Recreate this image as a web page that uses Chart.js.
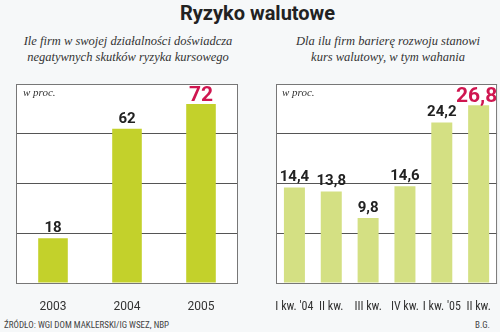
<!DOCTYPE html>
<html>
<head>
<meta charset="utf-8">
<script src="https://cdn.jsdelivr.net/npm/chart.js@4"></script>
<style>
  body { margin: 0; background: #f6f8f9; }
  #wrap { position: relative; width: 500px; height: 332px; overflow: hidden; font-family: Roboto, sans-serif; }
  .title { position: absolute; top: 1px; left: 0; width: 515px; text-align: center; font: bold 20px Roboto, sans-serif; color: #222; }
  .sub { position: absolute; top: 33px; text-align: center; font: italic 12.5px 'Liberation Serif', serif; color: #333; line-height: 16px; white-space: nowrap; }
  .unit { position: absolute; top: 86px; font: italic 11px 'Liberation Serif', serif; color: #333; }
  .foot { position: absolute; top: 320px; font: 9px 'Liberation Sans Narrow', 'Roboto Condensed', Roboto, sans-serif; color: #444; }
  canvas { position: absolute; }
</style>
</head>
<body>
<div id="wrap">
  <div class="title">Ryzyko walutowe</div>
  <div class="sub" style="left:18px;width:220px">Ile firm w swojej działalności doświadcza<br>negatywnych skutków ryzyka kursowego</div>
  <div class="sub" style="left:278px;width:220px">Dla ilu firm barierę rozwoju stanowi<br>kurs walutowy, w tym wahania</div>
  <div style="position:absolute;left:0;top:80px;width:250px;height:230px"><canvas id="left"></canvas></div>
  <div style="position:absolute;left:250px;top:80px;width:250px;height:230px"><canvas id="right"></canvas></div>
  <div class="unit" style="left:23px">w proc.</div>
  <div class="unit" style="left:282px">w proc.</div>
  <div class="foot" style="left:4px">ŹRÓDŁO: WGI DOM MAKLERSKI/IG WSEZ, NBP</div>
  <div class="foot" style="right:10px">B.G.</div>
</div>
<script>
// Left chart data
const yearLabels = ['2003', '2004', '2005'];
const yearValues = [18, 62, 72];
const yearTexts = ['18', '62', '72'];

// Right chart data
const quarterLabels = ["I kw. '04", 'II kw.', 'III kw.', 'IV kw.', "I kw. '05", 'II kw.'];
const quarterValues = [14.4, 13.8, 9.8, 14.6, 24.2, 26.8];
const quarterTexts = ['14,4', '13,8', '9,8', '14,6', '24,2', '26,8'];

// Frame round the plot area + white fill
const framePlugin = {
    id: 'frame',
    beforeDraw(chart) {
        const a = chart.chartArea;
        const ctx = chart.ctx;
        ctx.save();
        ctx.fillStyle = '#ffffff';
        ctx.fillRect(a.left, a.top, a.right - a.left, a.bottom - a.top);
        ctx.restore();
    },
    afterDraw(chart) {
        const a = chart.chartArea;
        const ctx = chart.ctx;
        ctx.save();
        ctx.strokeStyle = '#777';
        ctx.lineWidth = 1;
        ctx.strokeRect(a.left + 0.5, a.top + 0.5, a.right - a.left - 1, a.bottom - a.top);
        ctx.restore();
    }
};

// Value labels above the bars, last one highlighted
const valuePlugin = {
    id: 'values',
    afterDatasetsDraw(chart, args, opts) {
        const ctx = chart.ctx;
        const meta = chart.getDatasetMeta(0);
        ctx.save();
        ctx.textAlign = 'center';
        ctx.textBaseline = 'alphabetic';
        meta.data.forEach((bar, i) => {
            const last = i === meta.data.length - 1;
            ctx.fillStyle = last ? '#cf1650' : '#222';
            ctx.font = 'bold ' + (last ? opts.bigSize : opts.size) + 'px Roboto, sans-serif';
            ctx.fillText(opts.texts[i], bar.x - (last ? opts.shift : 0), bar.y - (last ? 3 : 6));
        });
        ctx.restore();
    }
};

function makeChart(id, labels, values, texts, max, color, barPct, leftPad, rightPad, tickFont, shift) {
    return new Chart(document.getElementById(id), {
        type: 'bar',
        data: {
            labels: labels,
            datasets: [{
                data: values,
                backgroundColor: color,
                barPercentage: barPct,
                categoryPercentage: 1
            }]
        },
        options: {
            responsive: true,
            maintainAspectRatio: false,
            animation: false,
            layout: { padding: { left: leftPad, right: rightPad, top: 4, bottom: 0 } },
            plugins: {
                legend: { display: false },
                tooltip: { enabled: false },
                values: { texts: texts, size: 15, bigSize: 21, shift: shift }
            },
            scales: {
                y: {
                    min: 0,
                    max: max,
                    ticks: { display: false, stepSize: max / 4 },
                    grid: { color: '#555', drawTicks: false },
                    border: { display: false }
                },
                x: {
                    grid: { display: false },
                    border: { display: false },
                    ticks: {
                        color: '#333',
                        padding: 9,
                        font: tickFont,
                        maxRotation: 0,
                        autoSkip: false
                    },
                    afterFit(scale) { scale.height = 27; }
                }
            }
        },
        plugins: [framePlugin, valuePlugin]
    });
}

makeChart('left', yearLabels, yearValues, yearTexts, 80, '#c3d12b', 0.4, 16, 12,
    { size: 12, family: 'Roboto, sans-serif' }, 0);
makeChart('right', quarterLabels, quarterValues, quarterTexts, 30, '#d4e083', 0.57, 26, 2,
    { size: 12, family: "'Liberation Sans Narrow', 'Roboto Condensed', Roboto, sans-serif" }, 2);
</script>
</body>
</html>
